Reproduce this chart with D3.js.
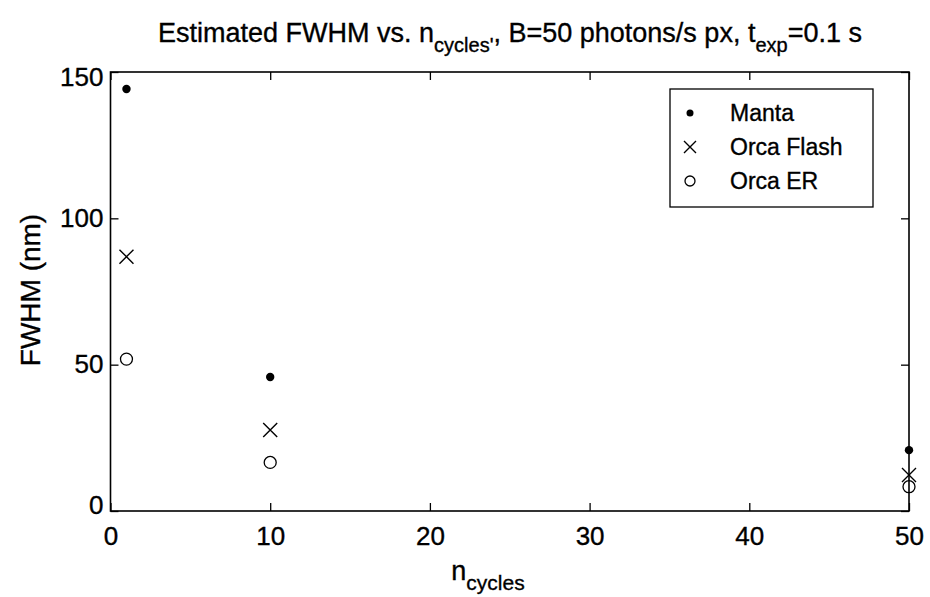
<!DOCTYPE html>
<html>
<head>
<meta charset="utf-8">
<script src="https://cdn.jsdelivr.net/npm/d3@7"></script>
<style>
  html, body { margin: 0; padding: 0; background: #fff; }
  svg { display: block; font-family: "Liberation Sans", Arial, sans-serif; }
  svg text { stroke: #000; stroke-width: 0.35px; fill: #000; }
</style>
</head>
<body>
<svg id="chart" width="930" height="597"></svg>
<script>
// Cycle counts on the x axis
const nCycles = [1, 10, 50];

// Estimated FWHM (nm) per camera
const manta      = [144.2, 45.8, 20.8];
const orcaFlash  = [86.9, 27.7, 12.3];
const orcaER     = [51.9, 16.6, 8.3];

const seriesNames = ["Manta", "Orca Flash", "Orca ER"];
const xTicks = [0, 10, 20, 30, 40, 50];
const yTicks = [0, 50, 100, 150];

const svg = d3.select("#chart");
const plotL = 110.5, plotR = 909, plotT = 72, plotB = 511;

const x = d3.scaleLinear().domain([0, 50]).range([plotL, plotR]);
const y = d3.scaleLinear().domain([0, 150]).range([plotB, plotT]);

// Axes frame
svg.append("rect")
  .attr("x", plotL).attr("y", plotT)
  .attr("width", plotR - plotL).attr("height", plotB - plotT)
  .attr("fill", "none").attr("stroke", "#000").attr("stroke-width", 1.6);

const tickLen = 8;
// Ticks point inward on all four sides
const gB = svg.append("g").attr("transform", `translate(0,${plotB})`)
  .call(d3.axisBottom(x).tickValues(xTicks).tickSizeInner(-tickLen).tickSizeOuter(0).tickPadding(16));
const gT = svg.append("g").attr("transform", `translate(0,${plotT})`)
  .call(d3.axisTop(x).tickValues(xTicks).tickSizeInner(-tickLen).tickSizeOuter(0).tickFormat(""));
const gL = svg.append("g").attr("transform", `translate(${plotL},0)`)
  .call(d3.axisLeft(y).tickValues(yTicks).tickSizeInner(-tickLen).tickSizeOuter(0).tickPadding(7));
const gR = svg.append("g").attr("transform", `translate(${plotR},0)`)
  .call(d3.axisRight(y).tickValues(yTicks).tickSizeInner(-tickLen).tickSizeOuter(0).tickFormat(""));

[gB, gT, gL, gR].forEach(g => {
  g.select(".domain").remove();
  g.selectAll(".tick line").attr("stroke", "#000").attr("stroke-width", 1.3);
  g.selectAll(".tick text")
    .attr("fill", "#000")
    .style("font-size", "26px")
    .style("font-family", "'Liberation Sans', Arial, sans-serif");
});

// The zero and top labels sit slightly above/below their ticks
gL.selectAll(".tick text").filter(d => d === 0).attr("dy", "0.1em");
gL.selectAll(".tick text").filter(d => d === 150).attr("dy", "0.5em");

// Markers
const dotSeries = nCycles.map((c, i) => ({ c, v: manta[i] }));
const xSeries = nCycles.map((c, i) => ({ c, v: orcaFlash[i] }));
const oSeries = nCycles.map((c, i) => ({ c, v: orcaER[i] }));

function drawDot(sel, r = 4.2) { sel.append("circle").attr("r", r).attr("fill", "#000"); }
function drawX(sel, s = 7) {
  sel.append("path").attr("d", `M${-s},${-s}L${s},${s}M${-s},${s}L${s},${-s}`)
    .attr("stroke", "#000").attr("stroke-width", 1.4).attr("fill", "none");
}
function drawO(sel, r = 6) {
  sel.append("circle").attr("r", r).attr("fill", "none").attr("stroke", "#000").attr("stroke-width", 1.3);
}

svg.append("g").selectAll("g").data(dotSeries).join("g")
  .attr("transform", d => `translate(${x(d.c)},${y(d.v)})`).call(drawDot);
svg.append("g").selectAll("g").data(xSeries).join("g")
  .attr("transform", d => `translate(${x(d.c)},${y(d.v)})`).call(drawX);
svg.append("g").selectAll("g").data(oSeries).join("g")
  .attr("transform", d => `translate(${x(d.c)},${y(d.v)})`).call(drawO);

// Legend
const lg = svg.append("g").attr("transform", "translate(670,89)");
lg.append("rect").attr("width", 203).attr("height", 118)
  .attr("fill", "#fff").attr("stroke", "#000").attr("stroke-width", 1.3);
const legendMarks = [s => drawDot(s, 3.5), s => drawX(s, 6), s => drawO(s, 5)];
seriesNames.forEach((name, i) => {
  const row = lg.append("g").attr("transform", `translate(0,${24 + i * 34})`);
  row.append("g").attr("transform", "translate(20,0)").call(legendMarks[i]);
  row.append("text").attr("x", 60).attr("dy", "0.35em")
    .style("font-size", "23px").text(name);
});

// Title with subscripts
const title = svg.append("text")
  .attr("x", 510).attr("y", 42).attr("text-anchor", "middle")
  .style("font-size", "27px");
title.append("tspan").text("Estimated FWHM vs. n");
title.append("tspan").attr("dy", 10).style("font-size", "20px").text("cycles'");
title.append("tspan").attr("dy", -10).text(", B=50 photons/s px, t");
title.append("tspan").attr("dy", 10).style("font-size", "20px").text("exp");
title.append("tspan").attr("dy", -10).text("=0.1 s");

// X axis label
const xl = svg.append("text").attr("x", 488).attr("y", 580).attr("text-anchor", "middle")
  .style("font-size", "27px");
xl.append("tspan").text("n");
xl.append("tspan").attr("dy", 10).style("font-size", "21px").text("cycles");

// Y axis label
svg.append("text")
  .attr("transform", "translate(40,290) rotate(-90)")
  .attr("text-anchor", "middle")
  .style("font-size", "28px")
  .text("FWHM (nm)");
</script>
</body>
</html>
